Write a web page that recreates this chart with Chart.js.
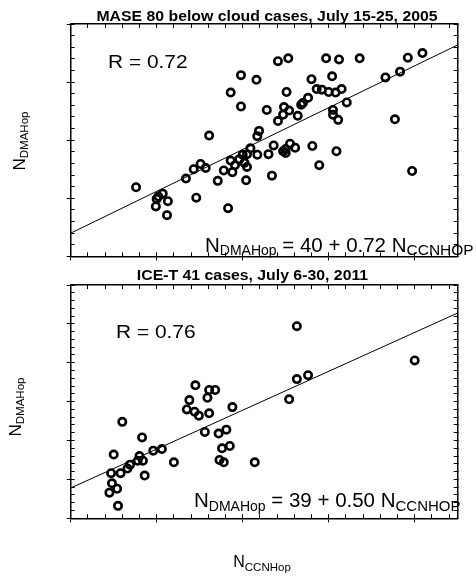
<!DOCTYPE html>
<html>
<head>
<meta charset="utf-8">
<script src="https://cdn.jsdelivr.net/npm/chart.js@4.4.0/dist/chart.umd.min.js"></script>
<style>
  html, body { margin: 0; padding: 0; background: #fff; }
  #wrap { position: relative; width: 476px; height: 577px; }
  .panel { position: absolute; left: 0; width: 476px; }
  #top { top: 0; height: 275px; }
  #bot { top: 265px; height: 312px; }
</style>
</head>
<body>
<div id="wrap">
  <div class="panel" id="top"><canvas id="c1"></canvas></div>
  <div class="panel" id="bot"><canvas id="c2"></canvas></div>
</div>
<script>
// --- data ---
const maseX = [76, 100, 102, 107, 99, 113, 112, 146, 134, 143, 151, 157, 161, 171, 178, 183, 186, 188, 191, 186,
  198, 198, 200, 202, 205, 205, 204, 209, 216, 217, 219, 217, 228, 230, 234, 236, 241, 241, 247, 248,
  253, 251, 254, 247, 250, 255, 261, 264, 268, 276, 280, 281, 289, 286, 292, 297, 300, 304, 305, 305,
  308, 311, 309, 312, 315, 321, 336, 366, 377, 383, 392, 397, 409, 196, 270, 250];
const maseY = [119, 99, 103, 108, 86, 95, 71, 101, 134, 150, 159, 152, 208, 130, 148, 83, 165, 145, 157, 282,
  312, 258, 175, 161, 176, 154, 131, 186, 304, 207, 216, 175, 252, 176, 139, 191, 233, 336, 244, 257,
  341, 283, 251, 181, 185, 194, 187, 242, 261, 273, 305, 190, 157, 288, 287, 341, 283, 310, 252, 244,
  282, 235, 181, 339, 288, 265, 341, 308, 236, 318, 342, 147, 350, 167, 264, 178];

const icetX = [45, 48, 47, 50, 54, 55, 58, 60, 66, 69, 78, 80, 83, 84, 86, 96, 106, 120, 135, 138,
  144, 145, 149, 156, 159, 161, 161, 168, 172, 173, 176, 178, 181, 185, 188, 214, 254, 263, 263, 276, 400];
const icetY = [33, 45, 58, 82, 38, 16, 58, 124, 64, 69, 74, 80, 104, 74, 55, 87, 89, 72, 140, 152,
  137, 171, 132, 111, 155, 165, 135, 165, 109, 75, 90, 72, 114, 93, 143, 72, 153, 179, 247, 184, 203];

// regression fits printed on the figure
const maseFit = { intercept: 40, slope: 0.72 };
const icetFit = { intercept: 39, slope: 0.50 };
const fitX = [0, 450];

// tick values
const xTicks = [0, 100, 200, 300, 400];
const xMinorTicks = [0, 20, 40, 60, 80, 100, 120, 140, 160, 180, 200, 220, 240, 260, 280, 300, 320, 340, 360, 380, 400, 420, 440];
const maseYTicks = [0, 100, 200, 300, 400];
const maseYMinor = [0, 20, 40, 60, 80, 100, 120, 140, 160, 180, 200, 220, 240, 260, 280, 300, 320, 340, 360, 380, 400];
const icetYTicks = [0, 50, 100, 150, 200, 250, 300];
const icetYMinor = [0, 10, 20, 30, 40, 50, 60, 70, 80, 90, 100, 110, 120, 130, 140, 150, 160, 170, 180, 190,
  200, 210, 220, 230, 240, 250, 260, 270, 280, 290, 300];

const maseTitle = 'MASE 80 below cloud cases, July 15-25, 2005';
const icetTitle = 'ICE-T 41 cases, July 6-30, 2011';

const FONT = '"Liberation Sans", Arial, sans-serif';
Chart.defaults.font.family = FONT;
Chart.defaults.color = '#000';

function pairs(xs, ys) {
  return xs.map((x, i) => ({ x: x, y: ys[i] }));
}
function fitLine(fit) {
  return fitX.map(x => ({ x: x, y: fit.intercept + fit.slope * x }));
}

// one axis of the box: zero size, tick marks only (negative length = inward)
function edgeAxis(pos, max, ticks, tickLen, border, labels) {
  return {
    type: 'linear',
    position: pos,
    min: 0,
    max: max,
    afterBuildTicks: s => { s.ticks = ticks.map(v => ({ value: v })); },
    afterFit: s => { if (s.isHorizontal()) s.height = 0; else s.width = 0; },
    grid: { display: true, drawOnChartArea: false, drawTicks: true, tickLength: tickLen, color: '#000', lineWidth: 1 },
    border: { display: border, color: '#000', width: 1.5 },
    ticks: labels || { display: false }
  };
}

// text with subscripts: parts = [text, size, baseline shift]
function notes(items) {
  return {
    id: 'notes',
    afterDraw(chart) {
      const ctx = chart.ctx;
      items.forEach(it => {
        ctx.save();
        ctx.translate(it.x, it.y);
        if (it.rotate) ctx.rotate(it.rotate);
        ctx.scale(it.sx || 1, 1);
        ctx.fillStyle = '#000';
        ctx.textAlign = 'left';
        ctx.textBaseline = 'alphabetic';
        const fontOf = p => (it.bold ? 'bold ' : '') + p[1] + 'px ' + FONT;
        const widths = it.parts.map(p => { ctx.font = fontOf(p); return ctx.measureText(p[0]).width; });
        const total = widths.reduce((s, w) => s + w, 0);
        let cx = it.align === 'center' ? -total / 2 : 0;
        it.parts.forEach((p, i) => {
          ctx.font = fontOf(p);
          ctx.fillText(p[0], cx, p[2] || 0);
          cx += widths[i];
        });
        ctx.restore();
      });
    }
  };
}

function panel(id, cfg) {
  return new Chart(document.getElementById(id), {
    type: 'scatter',
    data: {
      datasets: [{
        data: cfg.points,
        pointStyle: 'circle',
        pointRadius: 3.7,
        pointBorderWidth: 2.6,
        pointBackgroundColor: 'rgba(0,0,0,0)',
        pointBorderColor: '#000',
        showLine: false
      }, {
        data: cfg.line,
        showLine: true,
        borderColor: '#000',
        borderWidth: 1,
        pointRadius: 0
      }]
    },
    options: {
      responsive: true,
      maintainAspectRatio: false,
      animation: false,
      events: [],
      layout: { padding: cfg.padding },
      scales: {
        x: edgeAxis('bottom', 450, xTicks, 4, true,
          { display: cfg.xLabels, padding: 6, font: { size: 13.5 } }),
        xIn: edgeAxis('bottom', 450, xMinorTicks, -4, false),
        xTop: edgeAxis('top', 450, xMinorTicks, -4, true),
        y: edgeAxis('left', cfg.yMax, cfg.yTicks, 4, true,
          { padding: cfg.yPad, font: { size: cfg.yFont } }),
        yIn: edgeAxis('left', cfg.yMax, cfg.yMinor, -4, false),
        yRight: edgeAxis('right', cfg.yMax, cfg.yMinor, -4, true)
      },
      plugins: {
        legend: { display: false },
        tooltip: { enabled: false }
      }
    },
    plugins: [notes(cfg.notes)]
  });
}

// top panel: MASE
panel('c1', {
  points: pairs(maseX, maseY),
  line: fitLine(maseFit),
  padding: { top: 24, right: 18.3, bottom: 17.7, left: 70.7 },
  xLabels: false,
  yMax: 400,
  yTicks: maseYTicks,
  yMinor: maseYMinor,
  yPad: 12,
  yFont: 11,
  notes: [
    { parts: [[maseTitle, 14]], x: 267, y: 20.7, bold: true, sx: 1.13, align: 'center' },
    { parts: [['R = 0.72', 19]], x: 108, y: 68.3, sx: 1.1 },
    { parts: [['N', 20.5], ['DMAHop', 14, 3], [' = 40 + 0.72 N', 20.5], ['CCNHOP', 15.5, 3]], x: 205, y: 251.7 },
    { parts: [['N', 17], ['DMAHop', 11.5, 3]], x: 25, y: 141, rotate: -Math.PI / 2, align: 'center' }
  ]
});

// bottom panel: ICE-T
panel('c2', {
  points: pairs(icetX, icetY),
  line: fitLine(icetFit),
  padding: { top: 20, right: 18.3, bottom: 58.7, left: 70.7 },
  xLabels: true,
  yMax: 300,
  yTicks: icetYTicks,
  yMinor: icetYMinor,
  yPad: 9.7,
  yFont: 13.5,
  notes: [
    { parts: [[icetTitle, 14]], x: 252.5, y: 15, bold: true, sx: 1.13, align: 'center' },
    { parts: [['R = 0.76', 19]], x: 116, y: 73, sx: 1.1 },
    { parts: [['N', 20.5], ['DMAHop', 14, 3.5], [' = 39 + 0.50 N', 20.5], ['CCNHOP', 15, 3.5]], x: 194, y: 242 },
    { parts: [['N', 16], ['CCNHop', 11.5, 4]], x: 262, y: 302, align: 'center' },
    { parts: [['N', 17], ['DMAHop', 11.5, 3]], x: 20.7, y: 142, rotate: -Math.PI / 2, align: 'center' }
  ]
});
</script>
</body>
</html>
